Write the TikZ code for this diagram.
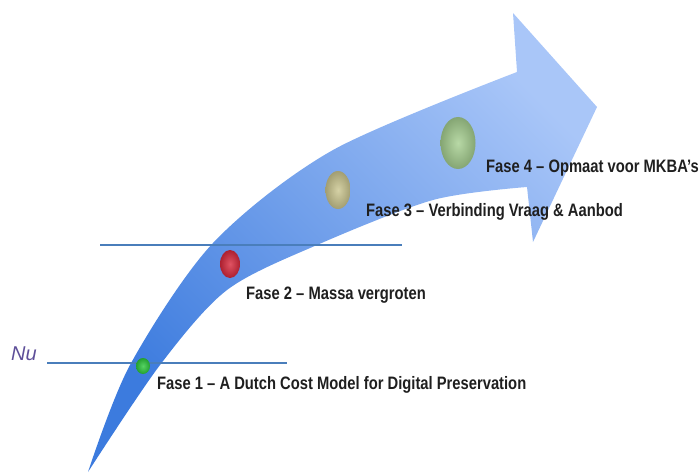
\documentclass[tikz,border=0pt]{standalone}
\usepackage{fontspec}
\setmainfont{Liberation Sans}
\newfontfamily\narrowfont[FakeStretch=0.82]{Liberation Sans}
\usetikzlibrary{shapes.geometric}

\definecolor{arrowdark}{HTML}{3C7BDE}
\definecolor{arrowlight}{HTML}{A9C6F8}
\definecolor{lineblue}{HTML}{4A7EBB}
\definecolor{nupurple}{HTML}{5E4F99}
\definecolor{ballgreen}{HTML}{2CC83C}
\definecolor{ballred}{HTML}{D8283C}
\definecolor{ballkhaki}{HTML}{CBC68F}
\definecolor{ballsage}{HTML}{A6CF90}

\begin{document}
\begin{tikzpicture}[x=1pt,y=-1pt,
    phase/.style={anchor=west, inner sep=0pt, text=black!88,
      font=\narrowfont\bfseries\fontsize{18}{20}\selectfont},
    ball/.style={ellipse, inner sep=0pt, inner color=#1!80!white, outer color=#1!80!black},
    nowline/.style={draw=lineblue, line width=2.5pt}]
    \useasboundingbox (0,0) rectangle (700,473);

    % curved arrow
    \shade[bottom color=arrowdark, top color=arrowlight, shading angle=-45]
        plot[smooth] coordinates {(88,472) (130,365) (213,243) (333,150) (517,72)}
        -- (513,13) -- (597,107) -- (533,242) -- (527,187)
        -- plot[smooth] coordinates {(527,187) (433,200) (317,245) (227,290) (160,365) (88,472)}
        -- cycle;

    % time lines
    \coordinate (now1) at (47,363);
    \coordinate (now2) at (287,363);
    \coordinate (next1) at (100,245);
    \coordinate (next2) at (402,245);
    \draw[nowline] (now1) -- (now2);
    \draw[nowline] (next1) -- (next2);

    \node[text=nupurple, font=\itshape\fontsize{20}{22}\selectfont] (nu) at (24,354) {Nu};

    \node[ball=ballgreen, minimum width=14pt, minimum height=16pt] (b1) at (143,366) {};
    \node[ball=ballred, minimum width=20pt, minimum height=28pt] (b2) at (230,264) {};
    \node[ball=ballkhaki, minimum width=25pt, minimum height=38pt] (b3) at (338,190) {};
    \node[ball=ballsage, minimum width=35pt, minimum height=52pt] (b4) at (458,143) {};

    \node[phase] (f1) at (157,385) {Fase 1 – A Dutch Cost Model for Digital Preservation};
    \node[phase] (f2) at (246,295) {Fase 2 – Massa vergroten};
    \node[phase] (f3) at (366,212) {Fase 3 – Verbinding Vraag \& Aanbod};
    \node[phase] (f4) at (486,168) {Fase 4 – Opmaat voor MKBA’s};
\end{tikzpicture}
\end{document}
